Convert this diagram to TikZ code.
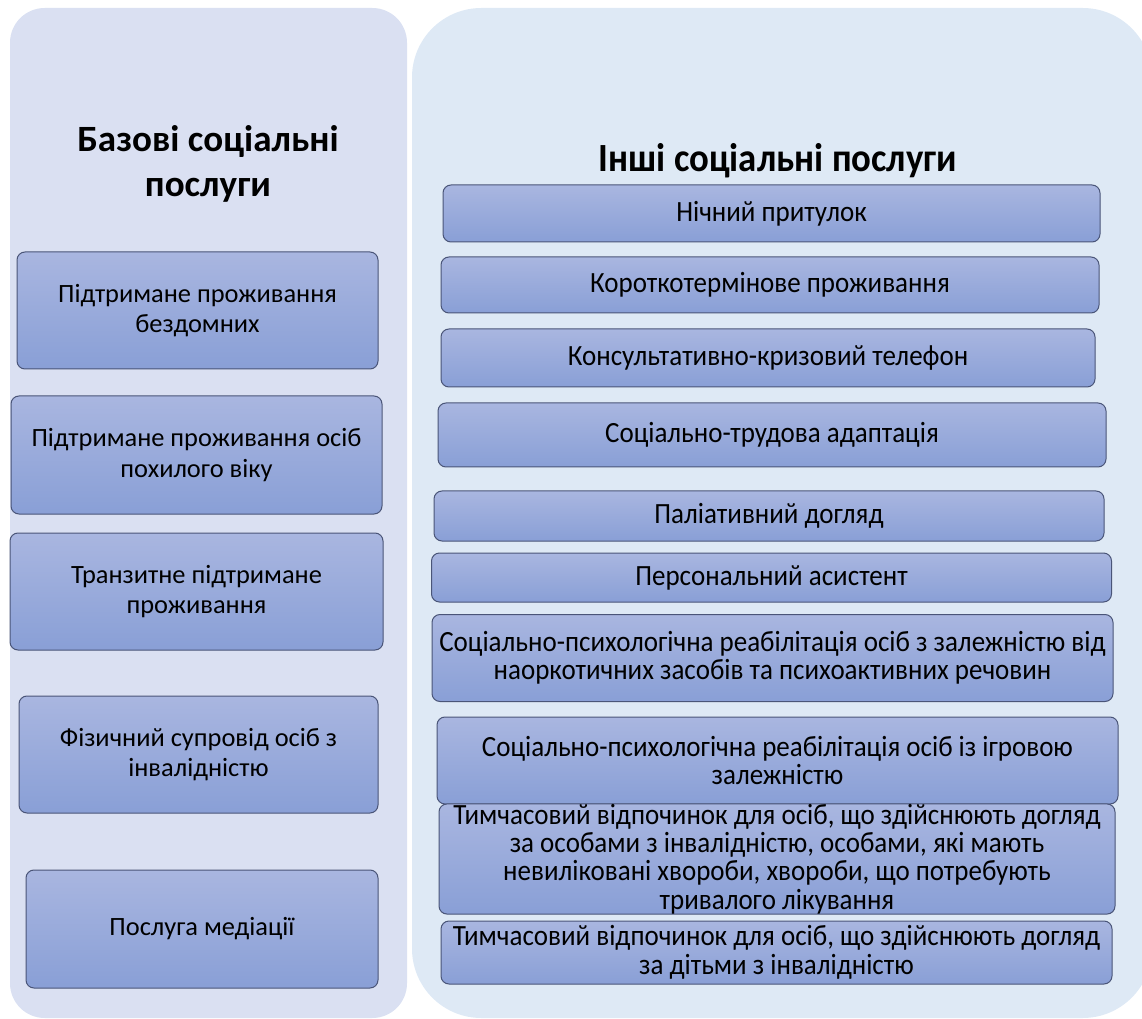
\documentclass[tikz,border=0pt]{standalone}
\usepackage{fontspec}
\setmainfont{Carlito}
\newfontfamily\condfont{Carlito}[FakeStretch=0.92]
\definecolor{leftpanel}{HTML}{DAE0F2}
\definecolor{rightpanel}{HTML}{DEE9F5}
\definecolor{boxtop}{HTML}{A9B6E0}
\definecolor{boxbot}{HTML}{899FD6}
\definecolor{boxline}{HTML}{4A5578}
\tikzset{
  panel/.style={inner sep=0pt, outer sep=0pt},
  svcbox/.style={draw=boxline, line width=0.75pt, rounded corners=6pt,
    top color=boxtop, bottom color=boxbot, inner sep=0pt, align=center},
  lbox/.style={svcbox, font=\fontsize{19.8}{23}\selectfont},
  rbox/.style={svcbox, font=\condfont\fontsize{22}{21.3}\selectfont},
  ltitle/.style={align=center, font=\bfseries\fontsize{27.8}{34}\selectfont},
  rtitle/.style={align=center, font=\condfont\bfseries\fontsize{30}{30}\selectfont},
}
\begin{document}
\begin{tikzpicture}[x=0.75pt,y=-0.75pt]
\useasboundingbox (0,0) rectangle (1142,1019);
% panels
\node[panel, fill=leftpanel, rounded corners=26pt, minimum width=397*0.75pt, minimum height=1010*0.75pt] (lpanel) at (208.5,513) {};
\node[panel, fill=rightpanel, rounded corners=52pt, minimum width=740*0.75pt, minimum height=1010*0.75pt] (rpanel) at (782,513) {};
% titles
\node[ltitle] (ltit) at (208,164) {Базові соціальні\\послуги};
\node[rtitle] (rtit) at (778,161) {Інші соціальні послуги};
% left boxes
\node[lbox, minimum width=361*0.75pt, minimum height=117*0.75pt] (l1) at (197.5,310.5) {Підтримане проживання\\бездомних};
\node[lbox, minimum width=371*0.75pt, minimum height=118*0.75pt] (l2) at (196.5,455) {Підтримане проживання осіб\\похилого віку};
\node[lbox, minimum width=373*0.75pt, minimum height=117*0.75pt] (l3) at (196.5,591.5) {Транзитне підтримане\\проживання};
\node[lbox, minimum width=359*0.75pt, minimum height=117*0.75pt] (l4) at (198.5,754.5) {Фізичний супровід осіб з\\інвалідністю};
\node[lbox, minimum width=352*0.75pt, minimum height=118*0.75pt] (l5) at (202,929) {Послуга медіації};
% right boxes
\node[rbox, minimum width=657*0.75pt, minimum height=57*0.75pt] (r1) at (771.5,213.5) {Нічний притулок};
\node[rbox, minimum width=658*0.75pt, minimum height=56*0.75pt] (r2) at (770,285) {Короткотермінове проживання};
\node[rbox, minimum width=654*0.75pt, minimum height=58*0.75pt] (r3) at (768,358) {Консультативно-кризовий телефон};
\node[rbox, minimum width=668*0.75pt, minimum height=64*0.75pt] (r4) at (772,435) {Соціально-трудова адаптація};
\node[rbox, minimum width=670*0.75pt, minimum height=50*0.75pt] (r5) at (769,516) {Паліативний догляд};
\node[rbox, minimum width=680*0.75pt, minimum height=49*0.75pt] (r6) at (771.5,577.5) {Персональний асистент};
\node[rbox, minimum width=681*0.75pt, minimum height=87*0.75pt] (r7) at (772.5,658) {Соціально-психологічна реабілітація осіб з залежністю від\\наоркотичних засобів та психоактивних речовин};
\node[rbox, minimum width=681*0.75pt, minimum height=87*0.75pt] (r8) at (777.5,760.5) {Соціально-психологічна реабілітація осіб із ігровою\\залежністю};
\node[rbox, minimum width=676*0.75pt, minimum height=88*0.75pt] (r9) at (777,859) {Тимчасовий відпочинок для осіб, що здійснюють догляд\\за особами з інвалідністю, особами, які мають\\невиліковані хвороби, хвороби, що потребують\\тривалого лікування};
\node[rbox, minimum width=671*0.75pt, minimum height=63*0.75pt] (r10) at (776.5,952.5) {Тимчасовий відпочинок для осіб, що здійснюють догляд\\за дітьми з інвалідністю};
\end{tikzpicture}
\end{document}
